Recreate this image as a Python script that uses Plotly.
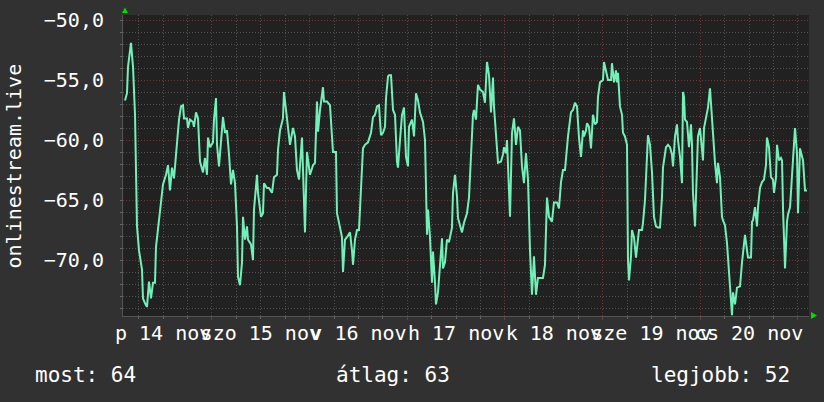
import pandas as pd
import plotly.graph_objects as go

# hours after 2025-11-14 00:00 and measured values
hours = [2.63, 3.12, 3.37, 4.10, 4.60, 4.84, 5.09, 5.58, 6.07, 6.81, 7.05, 7.54, 8.04, 8.53, 9.02, 9.51,
         10.00, 10.25, 10.74, 11.23, 11.72, 11.97, 12.70, 13.20, 13.69, 14.18, 14.67, 15.16, 15.41, 15.90,
         16.39, 16.88, 17.13, 17.86, 18.11, 18.60, 19.34, 19.58, 20.08, 20.57, 21.06, 21.55, 21.80, 22.29,
         22.78, 23.03, 23.52, 24.25, 24.50, 24.99, 25.24, 25.73, 26.22, 26.71, 27.20, 27.69, 28.19, 28.68,
         29.17, 29.66, 30.15, 30.40, 30.89, 31.38, 31.63, 32.12, 32.61, 32.85, 33.59, 34.08, 34.33, 35.07,
         35.31, 36.05, 36.54, 36.79, 37.52, 38.01, 38.75, 39.24, 39.98, 40.23, 40.72, 41.45, 41.70, 42.19,
         42.68, 43.17, 43.91, 44.40, 44.89, 45.39, 46.12, 46.37, 46.86, 47.35, 48.09, 48.83, 49.32, 49.81,
         50.06, 50.55, 51.28, 51.53, 52.27, 53.00, 53.50, 53.74, 54.48, 54.72, 55.22, 55.95, 56.20, 56.69,
         57.18, 57.92, 58.41, 58.66, 59.15, 59.64, 60.13, 60.62, 61.11, 61.60, 62.34, 63.08, 63.57, 64.06,
         64.55, 65.04, 65.54, 66.03, 66.52, 66.77, 67.26, 67.50, 68.00, 68.49, 68.98, 69.47, 69.71, 70.21,
         70.70, 71.19, 71.68, 72.17, 72.42, 73.15, 73.65, 74.14, 74.63, 75.12, 75.86, 76.35, 76.59, 76.84,
         77.09, 77.58, 78.07, 78.31, 78.81, 79.05, 79.54, 79.79, 80.53, 80.77, 81.26, 81.75, 82.25, 82.98,
         83.23, 83.72, 84.21, 84.46, 84.95, 85.44, 85.93, 86.67, 87.16, 87.65, 88.14, 88.39, 88.88, 89.37,
         89.87, 90.60, 91.09, 91.58, 92.08, 92.57, 93.06, 93.30, 93.80, 94.29, 95.02, 95.52, 95.76, 96.25,
         96.50, 96.99, 97.24, 97.73, 98.22, 98.71, 99.20, 99.69, 100.18, 100.67, 101.16, 101.66, 102.15,
         102.64, 103.13, 103.62, 104.11, 105.34, 105.83, 106.33, 106.82, 107.55, 108.04, 108.78, 109.27,
         109.77, 110.26, 110.75, 111.00, 111.49, 112.22, 112.71, 113.20, 113.70, 114.19, 114.68, 115.17,
         115.42, 115.91, 116.16, 116.65, 117.14, 117.63, 118.12, 118.61, 118.86, 119.35, 120.09, 120.33,
         120.83, 121.32, 122.06, 122.30, 122.79, 123.28, 123.53, 123.77, 124.26, 124.76, 125.00, 125.49,
         125.99, 126.23, 126.48, 126.97, 127.21, 127.70, 128.20, 128.44, 128.93, 129.67, 129.92, 130.41,
         130.90, 131.14, 131.64, 132.13, 132.62, 133.11, 133.60, 134.09, 134.58, 134.83, 135.57, 136.06,
         136.55, 137.04, 137.29, 137.78, 138.27, 138.52, 139.01, 139.50, 139.75, 139.99, 140.24, 140.73,
         141.22, 141.71, 141.96, 142.20, 142.70, 143.19, 143.43, 143.92, 144.42, 144.66, 144.91, 145.40,
         145.89, 146.38, 146.87, 147.12, 147.61, 148.10, 148.35, 148.84, 149.33, 149.58, 150.07, 150.56,
         150.81, 151.30, 151.79, 152.04, 152.53, 153.02, 153.76, 154.25, 154.49, 154.98, 155.48, 155.72,
         156.46, 156.71, 156.95, 157.44, 157.93, 158.18, 158.67, 159.16, 159.65, 160.14, 160.39, 160.88,
         161.37, 161.86, 162.11, 162.60, 162.85, 163.34, 163.83, 164.08, 164.33, 164.82, 165.31, 165.55,
         166.05, 166.54, 166.78, 167.27, 167.76, 168.01, 168.50, 168.99, 169.24, 169.73, 170.22]

values = [-56.7, -56.1, -53.9, -51.9, -53.9, -55.7, -57.9, -67.2, -69.2, -70.8, -73.2, -73.6, -73.9, -71.8, -73.2, -71.9,
          -71.9, -68.9, -67.5, -66.0, -64.8, -63.7, -62.9, -62.1, -64.2, -62.3, -63.2, -61.2, -59.6, -58.3,
          -57.2, -57.1, -58.2, -58.2, -59.0, -58.3, -58.5, -58.9, -57.7, -58.2, -61.8, -62.5, -62.7, -61.5,
          -62.9, -59.8, -60.6, -60.2, -58.3, -56.5, -60.4, -62.2, -59.7, -58.1, -59.4, -59.2, -61.2, -63.7,
          -62.5, -63.6, -67.2, -71.4, -72.1, -70.2, -66.4, -68.3, -67.2, -68.3, -68.7, -70.0, -65.8, -62.9,
          -64.4, -66.4, -66.1, -63.6, -64.0, -64.0, -64.4, -63.1, -62.9, -60.8, -59.2, -58.2, -56.0, -57.5,
          -58.9, -60.4, -59.0, -59.7, -62.5, -63.3, -59.8, -63.1, -67.7, -61.0, -62.9, -62.1, -61.9, -56.8,
          -59.3, -57.5, -55.6, -56.8, -56.8, -57.1, -60.2, -61.0, -61.0, -66.1, -66.9, -68.1, -71.0, -68.3,
          -68.1, -67.7, -69.2, -70.4, -68.3, -67.5, -67.5, -63.6, -60.7, -60.4, -60.2, -59.4, -58.1, -57.9,
          -57.2, -57.1, -59.6, -59.4, -58.9, -56.5, -54.7, -54.6, -54.6, -57.5, -57.9, -61.8, -62.3, -60.0,
          -57.9, -57.3, -61.4, -62.2, -58.9, -58.3, -59.7, -56.1, -56.7, -57.7, -58.5, -60.0, -66.0, -67.9,
          -65.8, -68.1, -71.9, -69.3, -71.9, -73.7, -72.7, -71.5, -68.2, -70.7, -70.2, -68.3, -68.5, -67.3,
          -64.4, -62.9, -64.7, -66.5, -67.2, -67.7, -66.9, -66.1, -64.8, -60.6, -57.9, -57.5, -58.3, -55.4,
          -55.8, -56.0, -56.9, -53.5, -54.6, -57.7, -54.8, -57.2, -59.6, -61.9, -61.8, -61.2, -60.6, -61.1,
          -60.0, -64.2, -66.4, -59.4, -58.2, -60.4, -58.9, -59.2, -62.2, -63.6, -61.1, -63.3, -69.2,
          -72.9, -69.7, -72.9, -71.5, -71.5, -70.4, -64.8, -66.4, -66.8, -65.2, -65.2, -65.7,
          -63.5, -62.5, -62.5, -61.4, -59.7, -57.7, -57.5, -56.9, -57.2, -59.8, -61.4, -59.2,
          -59.7, -59.2, -58.6, -58.9, -60.7, -57.9, -58.7, -58.5, -56.4, -55.2, -55.0, -53.5,
          -54.2, -55.0, -55.0, -53.6, -55.2, -54.2, -55.2, -54.4, -57.2, -57.9, -59.4, -59.7,
          -60.4, -70.0, -71.7, -69.7, -67.5, -68.1, -69.8, -68.9, -67.5, -67.5, -66.9, -65.0,
          -60.8, -59.6, -60.4, -62.7, -66.4, -67.2, -67.3, -67.3, -64.8, -62.3, -60.6, -60.4,
          -60.6, -61.2, -62.2, -59.7, -58.7, -60.0, -61.4, -63.6, -56.0, -56.4, -58.3, -58.5,
          -60.6, -58.7, -60.4, -64.4, -67.2, -62.5, -59.7, -59.0, -60.6, -61.7, -59.0, -58.2,
          -57.3, -55.7, -58.1, -59.7, -61.9, -63.6, -61.9, -63.1, -66.4, -66.7, -67.1, -68.6,
          -69.7, -71.7, -74.6, -72.7, -73.7, -72.3, -72.2, -70.2, -69.2, -67.9, -69.2, -69.8,
          -69.8, -66.8, -66.7, -65.6, -67.2, -65.6, -64.0, -63.5, -63.3, -62.1, -59.8, -60.6,
          -63.1, -63.3, -64.4, -63.1, -60.4, -61.7, -61.5, -61.7, -65.8, -70.7, -66.8, -66.2,
          -65.6, -63.2, -62.1, -59.0, -61.1, -66.1, -60.7, -61.5, -61.7, -64.2, -64.2]

day_label_hours = [12, 36, 60, 84, 108, 132, 156]
day_labels = ["p 14 nov", "szo 15 nov", "v 16 nov", "h 17 nov", "k 18 nov", "sze 19 nov", "cs 20 nov"]

series_name = "onlinestream.live"
stats_text = ["most: 64", "átlag: 63", "legjobb: 52"]

base = pd.Timestamp("2025-11-14 00:00")
times = base + pd.to_timedelta(hours, unit="h")
label_times = base + pd.to_timedelta(day_label_hours, unit="h")
x_range = [base + pd.Timedelta(hours=2.14), base + pd.Timedelta(hours=170.71)]

FONT = "DejaVu Sans Mono"
BG = "#313131"
CANVAS = "#212121"
MAJOR = "#763838"
MINOR = "#515151"
LINE = "#72F0B8"
ARROW = "#00dd00"

fig = go.Figure()
# grid axis (x) carries an invisible copy so that it is drawn
fig.add_trace(go.Scatter(x=times, y=values, mode="lines", xaxis="x", yaxis="y",
                         line=dict(color="rgba(0,0,0,0)", width=0), hoverinfo="skip", showlegend=False))
# labelled axis (x2) carries the visible line
fig.add_trace(go.Scatter(x=times, y=values, mode="lines", xaxis="x2", yaxis="y",
                         line=dict(color=LINE, width=2), hoverinfo="skip", showlegend=False))

fig.update_layout(
    width=824, height=402,
    margin=dict(l=123, r=15, t=15, b=86, autoexpand=False),
    paper_bgcolor=BG, plot_bgcolor=CANVAS,
    separators=",.",
    showlegend=False,
    xaxis=dict(
        type="date", range=x_range, automargin=False,
        tick0=base, dtick=86400000,
        showgrid=True, gridcolor=MAJOR, griddash="1px,2px", gridwidth=1,
        showticklabels=False,
        ticks="outside", ticklen=3, tickcolor=MAJOR,
        showline=True, linecolor="#555555", linewidth=1,
        minor=dict(tick0=base, dtick=21600000, showgrid=True, gridcolor=MINOR,
                   griddash="1px,2px", ticks="outside", ticklen=2, tickcolor="#666666"),
        zeroline=False,
    ),
    xaxis2=dict(
        type="date", range=x_range, overlaying="x", anchor="y", side="bottom", automargin=False,
        tickmode="array", tickvals=label_times, ticktext=day_labels, tickangle=0,
        showgrid=False, ticks="", ticklabelstandoff=3,
        tickfont=dict(family=FONT, size=20, color="#ffffff"),
        showline=False, zeroline=False,
    ),
    yaxis=dict(
        range=[-74.667, -49.583], automargin=False,
        tick0=-50, dtick=5, tickformat=".1f",
        showgrid=True, gridcolor=MAJOR, griddash="1px,2px", gridwidth=1,
        ticks="outside", ticklen=2, tickcolor="#666666", ticklabelstandoff=12,
        tickfont=dict(family=FONT, size=20, color="#ffffff"),
        showline=True, linecolor="#555555", linewidth=1,
        minor=dict(dtick=1, showgrid=True, gridcolor=MINOR, griddash="1px,2px",
                   ticks="outside", ticklen=2, tickcolor="#666666"),
        zeroline=False,
    ),
    annotations=[
        dict(text=series_name, textangle=-90, xref="paper", yref="paper",
             x=-0.1589, y=0.5, xanchor="center", yanchor="middle", showarrow=False,
             font=dict(family=FONT, size=20, color="#ffffff")),
        dict(text=stats_text[0], xref="paper", yref="paper", x=-0.1312, y=-0.196,
             xanchor="left", yanchor="middle", showarrow=False,
             font=dict(family=FONT, size=21, color="#ffffff")),
        dict(text=stats_text[1], xref="paper", yref="paper", x=0.3076, y=-0.196,
             xanchor="left", yanchor="middle", showarrow=False,
             font=dict(family=FONT, size=21, color="#ffffff")),
        dict(text=stats_text[2], xref="paper", yref="paper", x=0.9752, y=-0.196,
             xanchor="right", yanchor="middle", showarrow=False,
             font=dict(family=FONT, size=21, color="#ffffff")),
    ],
    shapes=[
        dict(type="path", xref="paper", yref="paper",
             path="M -0.0015 1.0066 L 0.0073 1.0066 L 0.0029 1.0249 Z",
             fillcolor=ARROW, line=dict(width=0)),
        dict(type="path", xref="paper", yref="paper",
             path="M 1.0029 0.0133 L 1.0029 -0.0100 L 1.0117 0.0017 Z",
             fillcolor=ARROW, line=dict(width=0)),
    ],
)

fig.write_html("out.html", config={"displayModeBar": False},
               post_script="document.body.style.margin='0';document.body.style.background='" + BG + "';")
